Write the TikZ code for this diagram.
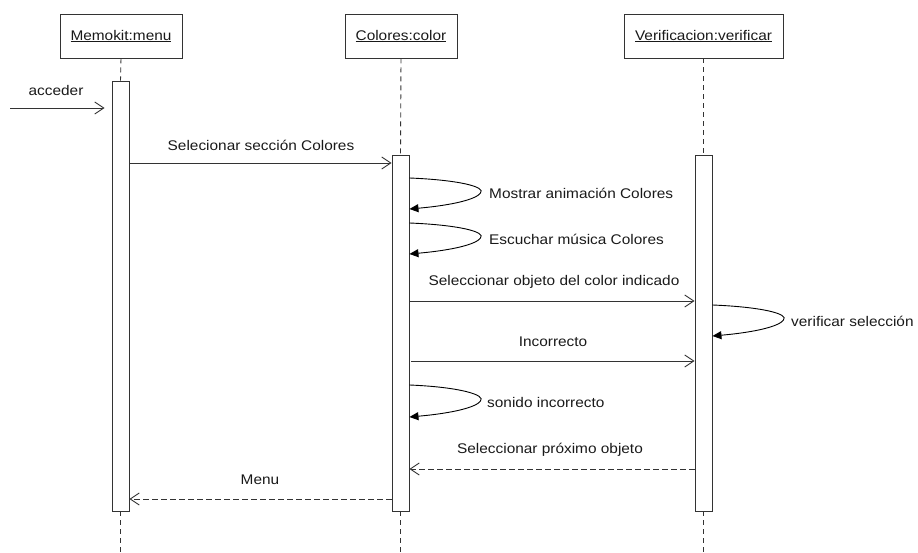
\documentclass[tikz,border=0pt]{standalone}
\usepackage{fontspec}
\setmainfont{Liberation Sans}[FakeStretch=1.1]
\usetikzlibrary{arrows.meta}
\begin{document}
\begin{tikzpicture}[x=1pt,y=-1pt,
  every node/.style={font=\fontsize{14}{16}\selectfont, text=black!90},
  obj/.style={draw=black!80, line width=0.9pt, minimum height=44pt, inner sep=0pt},
  bar/.style={draw=black!80, line width=0.9pt, minimum width=17pt, inner sep=0pt, fill=white},
  life/.style={draw=black!80, line width=0.9pt, dash pattern=on 5pt off 4pt},
  msg/.style={draw=black!80, line width=0.9pt, -{Straight Barb[length=9pt,width=12pt]}},
  ret/.style={msg, dash pattern=on 6pt off 3pt},
  self/.style={draw=black, line width=0.9pt, -{Triangle[length=9pt,width=8pt]}},
  lbl/.style={inner sep=0pt}
]
\useasboundingbox (0,0) rectangle (918,553);
% objects
\node[obj, minimum width=122pt] (m) at (121,36) {\underline{Memokit:menu}};
\node[obj, minimum width=112pt] (c) at (401,36) {\underline{Colores:color}};
\node[obj, minimum width=159pt] (v) at (703.5,36) {\underline{Verificacion:verificar}};
% activation bars
\node[bar, minimum height=430pt] (b1) at (120.5,296) {};
\node[bar, minimum height=356pt] (b2) at (400.5,333) {};
\node[bar, minimum height=356pt] (b3) at (703.5,333) {};
% lifeline ends
\coordinate (e1) at (120.5,553);
\coordinate (e2) at (400.5,553);
\coordinate (e3) at (703.5,553);
\draw[life] (m.south) -- (b1.north);
\draw[life] (b1.south) -- (e1);
\draw[life] (c.south) -- (b2.north);
\draw[life] (b2.south) -- (e2);
\draw[life] (v.south) -- (b3.north);
\draw[life] (b3.south) -- (e3);
% y levels
\coordinate (yA) at (0,108);
\coordinate (yB) at (0,163);
\coordinate (yC) at (0,301);
\coordinate (yD) at (0,361);
\coordinate (yE) at (0,469);
\coordinate (yF) at (0,499);
% acceder
\coordinate (acc) at (10,108);
\draw[msg, shorten >=7pt] (acc) -- (b1.west |- yA);
\node[lbl] (lacc) at (56,90) {acceder};
% Selecionar seccion Colores
\draw[msg] (b1.east |- yB) -- (b2.west |- yB);
\node[lbl] (l1) at (261,145) {Selecionar sección Colores};
% self messages
\coordinate (s1) at (b2.east |- {0,178});
\coordinate (t1) at (b2.east |- {0,209});
\draw[self] (s1) .. controls +(50,2) and +(6,-6) .. ++(71,15) .. controls +(-4,6) and +(45,-4) .. (t1);
\node[lbl, anchor=west] (l2) at (489,193) {Mostrar animación Colores};
\coordinate (s2) at (b2.east |- {0,223});
\coordinate (t2) at (b2.east |- {0,254});
\draw[self] (s2) .. controls +(50,2) and +(6,-6) .. ++(71,15) .. controls +(-4,6) and +(45,-4) .. (t2);
\node[lbl, anchor=west] (l3) at (489,239) {Escuchar música Colores};
% Seleccionar objeto
\draw[msg] (b2.east |- yC) -- (b3.west |- yC);
\node[lbl] (l4) at (554,282) {Seleccionar objeto del color indicado};
% verificar seleccion
\coordinate (s3) at (b3.east |- {0,305});
\coordinate (t3) at (b3.east |- {0,336});
\draw[self] (s3) .. controls +(50,2) and +(6,-6) .. ++(71,15) .. controls +(-4,6) and +(45,-4) .. (t3);
\node[lbl, anchor=west] (l5) at (791,321) {verificar selección};
% Incorrecto
\draw[msg, shorten <=2pt] (b2.east |- yD) -- (b3.west |- yD);
\node[lbl] (l6) at (553,342) {Incorrecto};
% sonido incorrecto
\coordinate (s4) at (b2.east |- {0,385});
\coordinate (t4) at (b2.east |- {0,417});
\draw[self] (s4) .. controls +(50,2) and +(6,-6) .. ++(71,16) .. controls +(-4,6) and +(45,-4) .. (t4);
\node[lbl, anchor=west] (l7) at (487,402) {sonido incorrecto};
% Seleccionar proximo objeto
\draw[ret] (b3.west |- yE) -- (b2.east |- yE);
\node[lbl] (l8) at (550,450) {Seleccionar próximo objeto};
% Menu
\draw[ret] (b2.west |- yF) -- (b1.east |- yF);
\node[lbl] (l9) at (260,480) {Menu};
\end{tikzpicture}
\end{document}
